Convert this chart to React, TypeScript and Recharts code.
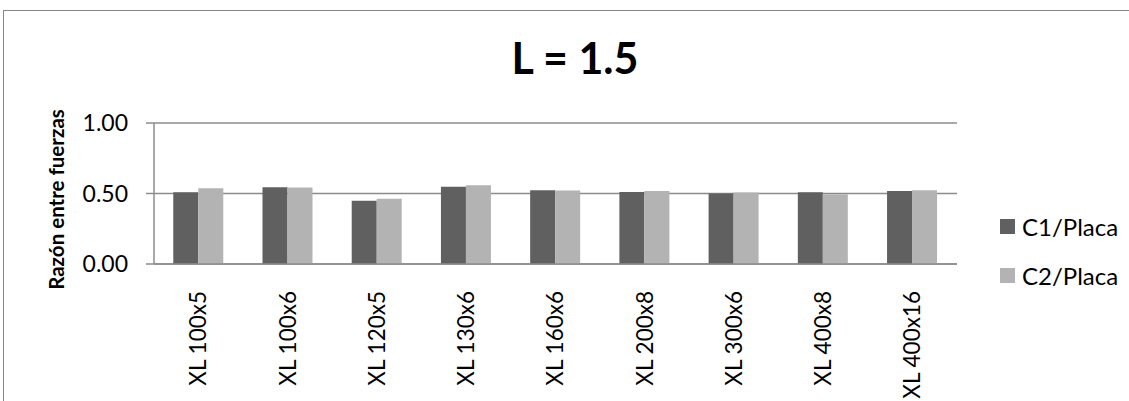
import React from 'react';
import { Bar, BarChart, CartesianGrid, XAxis, YAxis } from 'recharts';

const categories = [
  'XL 100x5',
  'XL 100x6',
  'XL 120x5',
  'XL 130x6',
  'XL 160x6',
  'XL 200x8',
  'XL 300x6',
  'XL 400x8',
  'XL 400x16'
];
const c1Placa = [0.509, 0.544, 0.448, 0.547, 0.523, 0.511, 0.5, 0.509, 0.518];
const c2Placa = [0.537, 0.542, 0.462, 0.558, 0.521, 0.518, 0.507, 0.495, 0.523];
const yTicks = [0, 0.5, 1];

const seriesNames = ['C1/Placa', 'C2/Placa'];
const seriesColors = ['#606060', '#b3b3b3'];

const FONT = 'Lato, "Open Sans", sans-serif';
const GRID = '#8c8c8c';

const chartData = categories.map((name, i) => ({
  name,
  c1: c1Placa[i],
  c2: c2Placa[i]
}));

const XTick = (props: any) => {
  const { x, y, payload } = props;
  return (
    <g transform={`translate(${x},${y + 19})`}>
      <text
        transform="rotate(-90)"
        textAnchor="end"
        dy="0.35em"
        fill="#000"
        fontSize={22.5}
        fontFamily={FONT}
      >
        {payload.value}
      </text>
    </g>
  );
};

const YLabel = (props: any) => {
  const { viewBox } = props;
  const cx = viewBox.x + 56;
  const cy = viewBox.y + viewBox.height / 2 + 6;
  return (
    <text
      x={cx}
      y={cy}
      transform={`rotate(-90, ${cx}, ${cy})`}
      textAnchor="middle"
      dominantBaseline="central"
      fontSize={20.5}
      fontWeight="bold"
      fontFamily={FONT}
      fill="#000"
    >
      Razón entre fuerzas
    </text>
  );
};

// legend drawn beside the chart, like the Excel original
const LegendBox = () => (
  <div
    style={{
      position: 'absolute',
      left: 1000,
      top: 202,
      fontFamily: FONT,
      fontSize: 24,
      color: '#000'
    }}
  >
    {seriesNames.map((n, i) => (
      <div key={n} style={{ display: 'flex', alignItems: 'center', height: 49 }}>
        <span
          style={{
            display: 'inline-block',
            width: 15,
            height: 15,
            background: seriesColors[i],
            marginRight: 7
          }}
        />
        {n}
      </div>
    ))}
  </div>
);

export default function App() {
  return (
    <div
      style={{
        position: 'absolute',
        left: 0,
        top: 0,
        width: 1129,
        height: 401,
        background: '#fff',
        overflow: 'hidden'
      }}
    >
      <div
        style={{
          position: 'absolute',
          left: 3,
          top: 10,
          width: 1200,
          height: 500,
          borderLeft: '1px solid #868686',
          borderTop: '1px solid #868686'
        }}
      />
      <div
        style={{
          position: 'absolute',
          left: 475,
          width: 200,
          top: 33,
          textAlign: 'center',
          fontFamily: FONT,
          fontWeight: 'bold',
          fontSize: 43,
          lineHeight: '50px',
          color: '#000'
        }}
      >
        L = 1.5
      </div>
      <div style={{ position: 'absolute', left: 0, top: 0 }}>
        <BarChart
          width={1129}
          height={401}
          data={chartData}
          margin={{ top: 123, right: 172, bottom: 17, left: 0 }}
          barCategoryGap="21.6%"
          barGap={0}
        >
          <CartesianGrid horizontal vertical={false} stroke={GRID} strokeWidth={1.5} />
          <XAxis
            dataKey="name"
            height={120}
            tickLine={false}
            axisLine={{ stroke: GRID, strokeWidth: 1.5 }}
            tick={<XTick />}
            interval={0}
          />
          <YAxis
            width={154}
            domain={[0, 1]}
            ticks={yTicks}
            tickFormatter={(v: number) => v.toFixed(2)}
            tickSize={8}
            tickMargin={18}
            tickLine={{ stroke: GRID, strokeWidth: 1.5 }}
            axisLine={{ stroke: GRID, strokeWidth: 1.5 }}
            tick={{ fill: '#000', fontSize: 23, fontFamily: FONT }}
            label={<YLabel />}
          />
          <Bar dataKey="c1" name={seriesNames[0]} fill={seriesColors[0]} isAnimationActive={false} />
          <Bar dataKey="c2" name={seriesNames[1]} fill={seriesColors[1]} isAnimationActive={false} />
        </BarChart>
      </div>
      <LegendBox />
    </div>
  );
}
